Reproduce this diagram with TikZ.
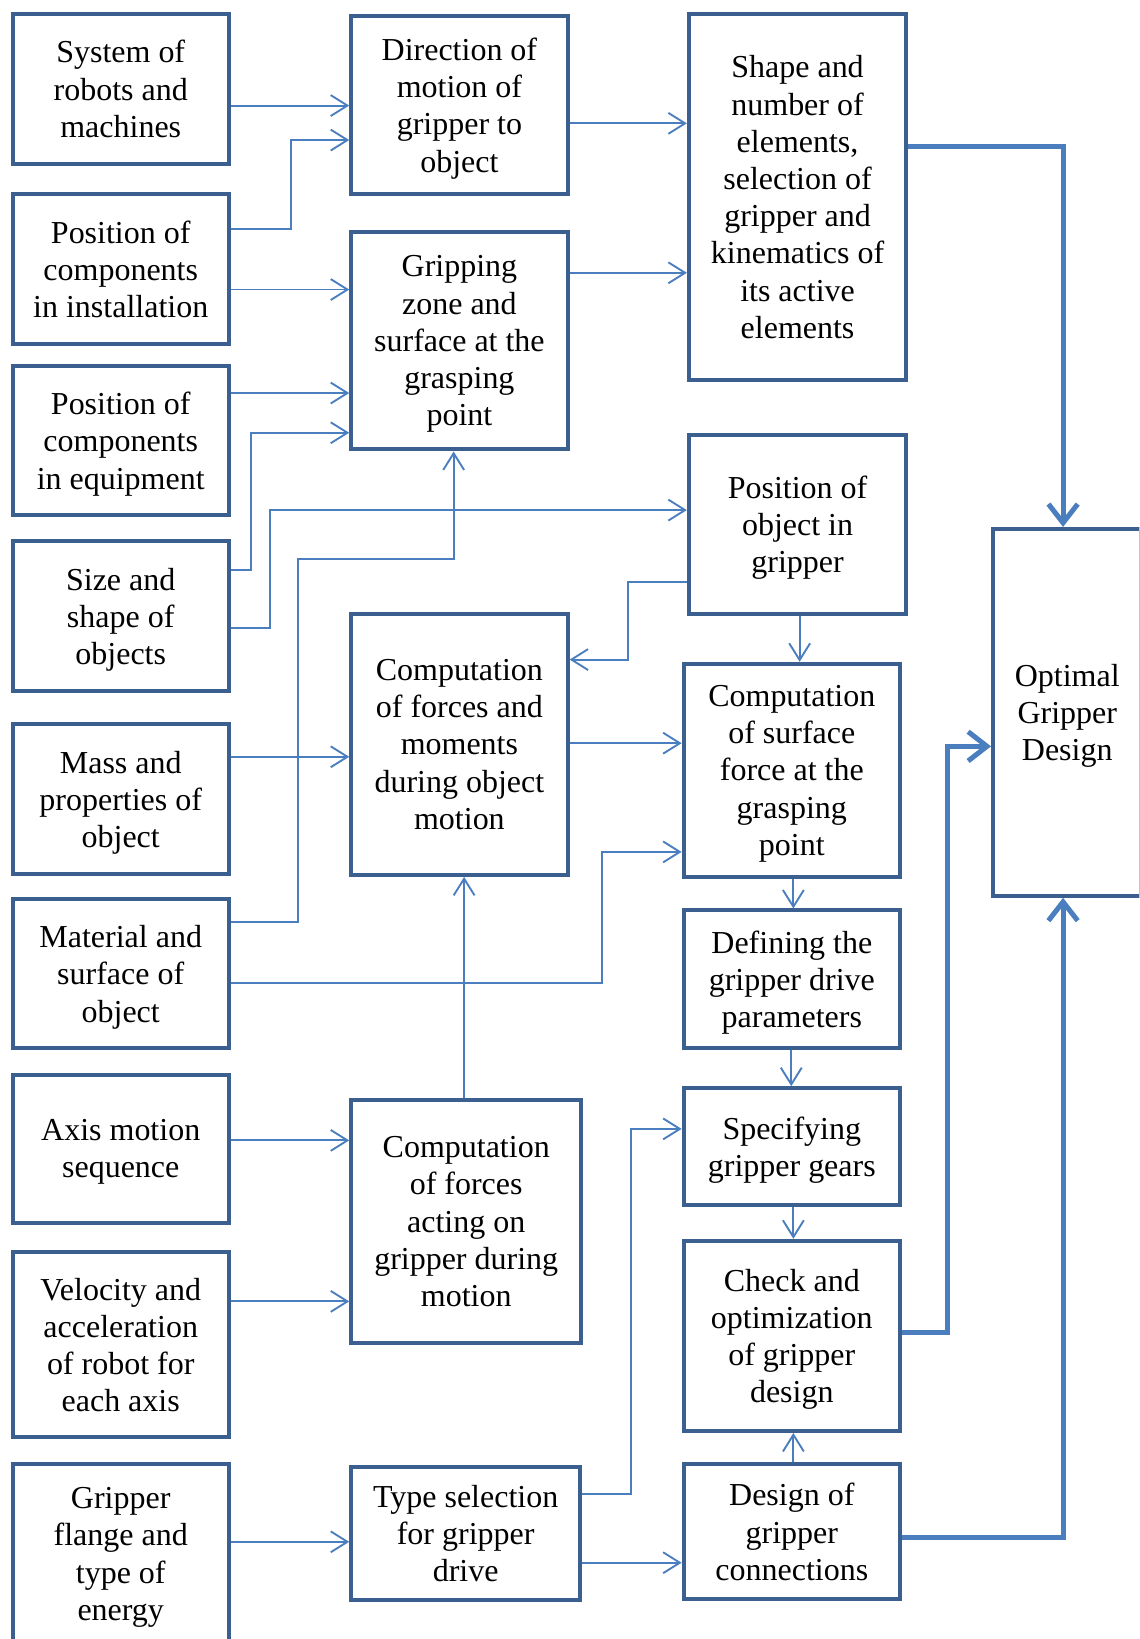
\documentclass[tikz,border=0pt]{standalone}
\usepackage{fontspec}
\setmainfont{Liberation Serif}
\usetikzlibrary{arrows.meta}
\definecolor{boxc}{HTML}{3B5F8F}
\definecolor{linec}{HTML}{4A7EBE}
\tikzset{
  box/.style={draw=boxc, line width=1.9pt, align=center, inner sep=0pt, text depth=0pt,
              font=\fontsize{15.3}{17.8}\selectfont},
  ln/.style={draw=linec, line width=0.9pt, -{Straight Barb[length=8pt,width=10pt]}},
  thickln/.style={draw=linec, line width=2.4pt, -{Straight Barb[length=9pt,width=14pt]}},
}
\begin{document}
\begin{tikzpicture}[x=0.5pt,y=-0.5pt]
\useasboundingbox (0,0) rectangle (1090,1568);
\clip (0,0) rectangle (1090,1568);

% input column
\node[box, minimum width=103.5pt, minimum height=72pt]   (sys)    at (115.5,85)    {System of\\robots and\\machines};
\node[box, minimum width=103.5pt, minimum height=71.5pt] (pinst)  at (115.5,257.5) {Position of\\components\\in installation};
\node[box, minimum width=103.5pt, minimum height=71.5pt] (pequip) at (115.5,421.5) {Position of\\components\\in equipment};
\node[box, minimum width=103.5pt, minimum height=71.5pt] (size)   at (115.5,589.5) {Size and\\shape of\\objects};
\node[box, minimum width=103.5pt, minimum height=71.5pt] (mass)   at (115.5,764.5) {Mass and\\properties of\\object};
\node[box, minimum width=103.5pt, minimum height=71.5pt] (mat)    at (115.5,931.5) {Material and\\surface of\\object};
\node[box, minimum width=103.5pt, minimum height=71pt]   (axis)   at (115.5,1099)  {Axis motion\\sequence};
\node[box, minimum width=103.5pt, minimum height=88.5pt] (vel)    at (115.5,1286.5){Velocity and\\acceleration\\of robot for\\each axis};
\node[box, minimum width=103.5pt, minimum height=85.5pt] (flange) at (115.5,1486.5){Gripper\\flange and\\type of\\energy};

% second column
\node[box, minimum width=103.5pt, minimum height=85.5pt] (dir)  at (439.5,100.5) {Direction of\\motion of\\gripper to\\object};
\node[box, minimum width=103.5pt, minimum height=104pt]  (grip) at (439.5,326)   {Gripping\\zone and\\surface at the\\grasping\\point};
\node[box, minimum width=103.5pt, minimum height=125pt]  (cfm)  at (439.5,712)   {Computation\\of forces and\\moments\\during object\\motion};
\node[box, minimum width=110pt,   minimum height=116.5pt](cfg)  at (446,1168.5)  {Computation\\of forces\\acting on\\gripper during\\motion};
\node[box, minimum width=109.5pt, minimum height=64pt]   (type) at (445.5,1467)  {Type selection\\for gripper\\drive};

% third column
\node[box, minimum width=104pt,   minimum height=175.5pt](shape) at (763,188.5)  {Shape and\\number of\\elements,\\selection of\\gripper and\\kinematics of\\its active\\elements};
\node[box, minimum width=104pt,   minimum height=85.5pt] (pobj)  at (763,501.5)  {Position of\\object in\\gripper};
\node[box, minimum width=103.5pt, minimum height=102pt]  (csf)   at (757.5,737)  {Computation\\of surface\\force at the\\grasping\\point};
\node[box, minimum width=103.5pt, minimum height=66pt]   (drive) at (757.5,937)  {Defining the\\gripper drive\\parameters};
\node[box, minimum width=103.5pt, minimum height=56pt]   (gears) at (757.5,1097) {Specifying\\gripper gears};
\node[box, minimum width=103.5pt, minimum height=91pt]   (check) at (757.5,1278) {Check and\\optimization\\of gripper\\design};
\node[box, minimum width=103.5pt, minimum height=64.5pt] (conn)  at (757.5,1465.5){Design of\\gripper\\connections};

% result
\node[box, minimum width=71pt, minimum height=175.5pt] (opt) at (1021,681.5) {Optimal\\Gripper\\Design};

% thin connectors
\draw[ln] (sys.east |- 0,101) -- (dir.west |- 0,101);
\draw[ln] (pinst.east |- 0,219) -- (278,219) |- (dir.west |- 0,134);
\draw[ln] (pinst.east |- 0,277) -- (grip.west |- 0,277);
\draw[ln] (pequip.east |- 0,376) -- (grip.west |- 0,376);
\draw[ln] (size.east |- 0,545) -- (240,545) |- (grip.west |- 0,414);
\draw[ln] (size.east |- 0,601) -- (258,601) |- (pobj.west |- 0,488);
\draw[ln] (mat.east |- 0,882) -- (285,882) -- (285,535) -| (grip.south -| 434,0);
\draw[ln] (dir.east |- 0,118) -- (shape.west |- 0,118);
\draw[ln] (grip.east |- 0,261) -- (shape.west |- 0,261);
\draw[ln] (pobj.west |- 0,557) -- (601,557) |- (cfm.east |- 0,631);
\draw[ln] (pobj.south -| 765,0) -- (csf.north -| 765,0);
\draw[ln] (mass.east |- 0,724) -- (cfm.west |- 0,724);
\draw[ln] (cfm.east |- 0,711) -- (csf.west |- 0,711);
\draw[ln] (mat.east |- 0,940) -- (576,940) |- (csf.west |- 0,815);
\draw[ln] (cfg.north -| 444,0) -- (cfm.south -| 444,0);
\draw[ln] (axis.east |- 0,1091) -- (cfg.west |- 0,1091);
\draw[ln] (vel.east |- 0,1245) -- (cfg.west |- 0,1245);
\draw[ln] (flange.east |- 0,1475) -- (type.west |- 0,1475);
\draw[ln] (type.east |- 0,1429) -- (604,1429) |- (gears.west |- 0,1080);
\draw[ln] (type.east |- 0,1495) -- (conn.west |- 0,1495);
\draw[ln] (csf.south -| 759,0) -- (drive.north -| 759,0);
\draw[ln] (drive.south -| 757,0) -- (gears.north -| 757,0);
\draw[ln] (gears.south -| 759,0) -- (check.north -| 759,0);
\draw[ln] (conn.north -| 759,0) -- (check.south -| 759,0);

% thick connectors into the result
\draw[thickln] (shape.east |- 0,140) -| (opt.north -| 1017,0);
\draw[thickln] (check.east |- 0,1275) -- (906,1275) |- (opt.west |- 0,714);
\draw[thickln] (conn.east |- 0,1471) -| (opt.south -| 1017,0);
\end{tikzpicture}
\end{document}
